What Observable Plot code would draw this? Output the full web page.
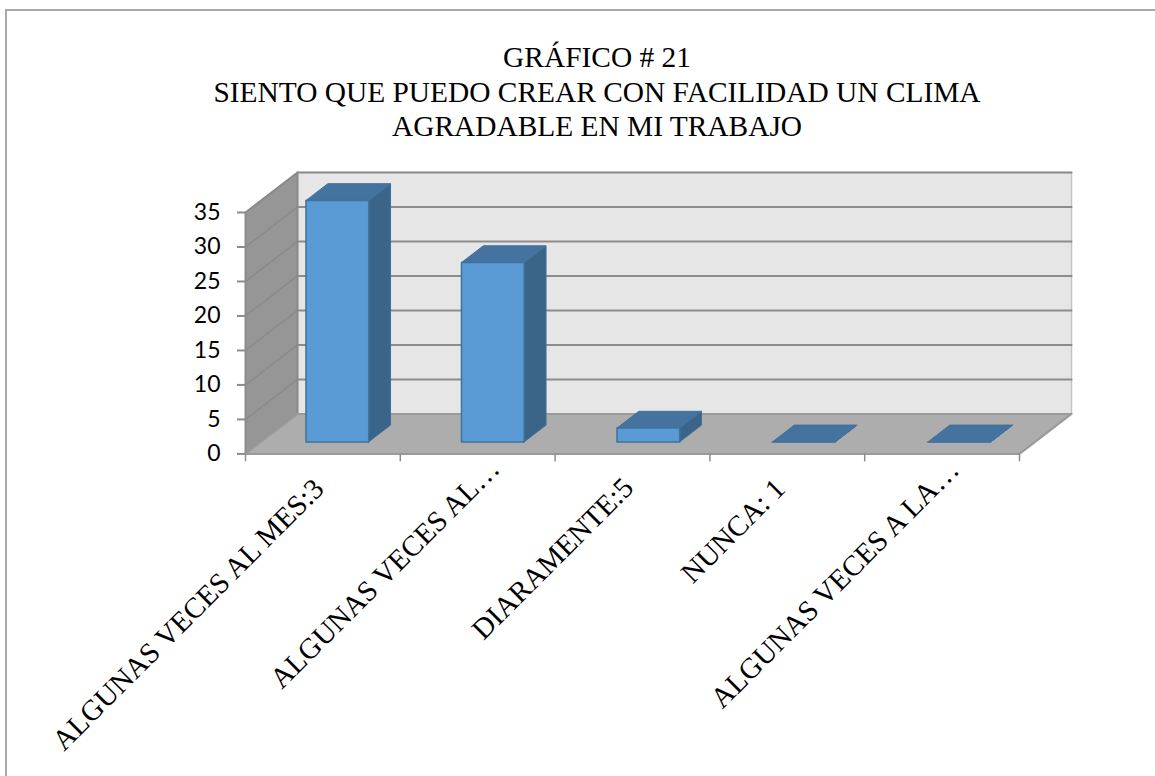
<!DOCTYPE html>
<html lang="es">
<head>
<meta charset="utf-8">
<script src="https://cdn.jsdelivr.net/npm/d3@7"></script>
<script src="https://cdn.jsdelivr.net/npm/@observablehq/plot@0.6"></script>
<style>
  html, body { margin: 0; padding: 0; background: #fff; overflow: hidden; width: 1155px; height: 776px; }
  #frame { position: absolute; left: 5px; top: 9px; width: 1200px; height: 800px; border-top: 2px solid #a8a8a8; border-left: 2px solid #a8a8a8; }
  #title { position: absolute; left: 0; top: 40px; width: 1194px; text-align: center; font: 29.4px/34.5px "Liberation Serif", serif; color: #000; }
  #chart { position: absolute; left: 0; top: 150px; }
  svg { overflow: visible; }
</style>
</head>
<body>
<div id="frame"></div>
<div id="title">GRÁFICO # 21<br>SIENTO QUE PUEDO CREAR CON FACILIDAD UN CLIMA<br>AGRADABLE EN MI TRABAJO</div>
<div id="chart"></div>
<script>
// Survey answers and their counts
const categories = ["ALGUNAS VECES AL MES:3", "ALGUNAS VECES AL…", "DIARAMENTE:5", "NUNCA: 1", "ALGUNAS VECES A LA…"];
const counts = [35, 26, 2, 0, 0];
const yTicks = [0, 5, 10, 15, 20, 25, 30, 35];

// Oblique projection: one unit of depth moves a point this far in x and y data units
const depthX = 0.336;
const depthY = 5.8;
const project = (id, x, y, z) => ({id, px: x + z * depthX, py: y + z * depthY});
const nCat = categories.length;
const yMax = 35;

// Closed polygon on the given corners [x, y, z]
const poly = (id, corners) => [...corners, corners[0]].map(([x, y, z]) => project(id, x, y, z));
const face = (pts, fill, stroke, strokeWidth = 1) =>
  Plot.line(pts, {x: "px", y: "py", z: "id", fill, stroke, strokeWidth});

// Chart walls
const backWall = poly("back", [[0, 0, 1], [nCat, 0, 1], [nCat, yMax, 1], [0, yMax, 1]]);
const sideWall = poly("side", [[0, 0, 0], [0, yMax, 0], [0, yMax, 1], [0, 0, 1]]);
const floor = poly("floor", [[0, 0, 0], [nCat, 0, 0], [nCat, 0, 1], [0, 0, 1]]);

// Gridlines run along the side wall, then across the back wall
const gridValues = yTicks.filter(v => v > 0);
const sideGrid = gridValues.flatMap(v => [[0, v, 0], [0, v, 1]].map(([x, y, z]) => project(v, x, y, z)));
const backGrid = gridValues.flatMap(v => [[0, v, 1], [nCat, v, 1]].map(([x, y, z]) => project(v, x, y, z)));

// Bar boxes: each stands within its category slot, set back from the front of the floor
const barPitch = 1.0045, barX0 = 0.29, barWidth = 0.405, barZ0 = 0.3, barZ1 = 0.72;
const barFaces = counts.map((v, i) => {
  const a = i * barPitch + barX0, b = a + barWidth;
  return {
    front: poly(`f${i}`, [[a, 0, barZ0], [b, 0, barZ0], [b, v, barZ0], [a, v, barZ0]]),
    top: poly(`t${i}`, [[a, v, barZ0], [b, v, barZ0], [b, v, barZ1], [a, v, barZ1]]),
    right: poly(`r${i}`, [[b, 0, barZ0], [b, 0, barZ1], [b, v, barZ1], [b, v, barZ0]])
  };
});

// Where each rotated label ends, relative to the centre of its slot
const labelShift = [[-4, 30], [17, 10], [-4, 29], [-7, 30], [12, 11]];

const chart = Plot.plot({
  width: 1155,
  height: 626,
  marginLeft: 245,
  marginRight: 136,
  marginTop: 62,
  marginBottom: 322.6,
  style: {background: "transparent"},
  x: {domain: [0, nCat], axis: null},
  y: {domain: [0, yMax], axis: null},
  marks: [
    face(backWall, "#e6e6e6", "#c4c4c4", 1.5),
    face(sideWall, "#969696", "#8c8c8c", 2),
    face(floor, "#adadad", "#9a9a9a", 2),
    Plot.line(sideGrid, {x: "px", y: "py", z: "id", stroke: "#8a8a8a", strokeWidth: 1.5}),
    Plot.line(backGrid, {x: "px", y: "py", z: "id", stroke: "#8c8c8c", strokeWidth: 2}),
    ...barFaces.flatMap(f => [
      face(f.right, "#3a6488", "#41719c"),
      face(f.top, "#44739f", "#41719c"),
      face(f.front, "#5b9bd5", "#41719c", 1.5)
    ]),
    Plot.axisY({
      ticks: yTicks, tickSize: 8, tickPadding: 17, label: null,
      stroke: "#8c8c8c", strokeWidth: 2, fill: "#000",
      fontSize: 23, fontFamily: "Lato, sans-serif"
    }),
    Plot.axisX({
      ticks: d3.range(0, nCat + 1), tickSize: 8, tickFormat: () => "", label: null,
      stroke: "#8c8c8c", strokeWidth: 1.5
    }),
    ...categories.map((c, i) => Plot.text([c], {
      x: () => i + 0.5, y: () => 0, text: d => d,
      rotate: -45, textAnchor: "end", lineAnchor: "middle",
      dx: labelShift[i][0], dy: labelShift[i][1],
      fontSize: 29, fontFamily: "Liberation Serif, serif", fill: "#000"
    }))
  ]
});
document.getElementById("chart").append(chart);
</script>
</body>
</html>
